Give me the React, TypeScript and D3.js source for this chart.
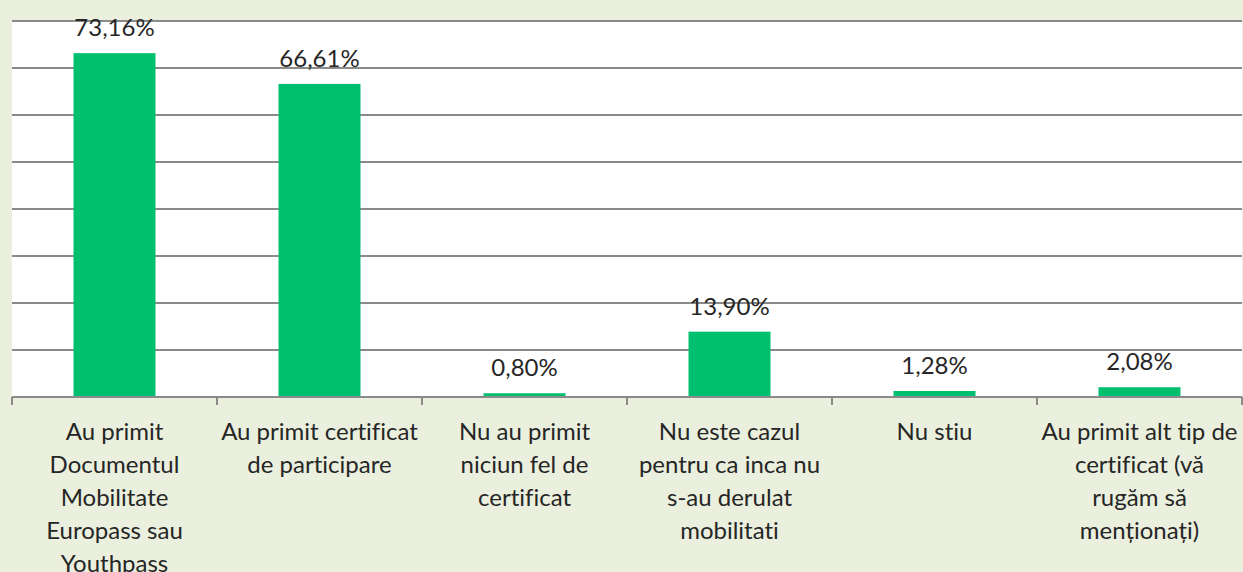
import { useEffect, useRef } from 'react';
import * as d3 from 'd3';

// category labels, already broken into lines as in the source chart
const categories: string[][] = [
  ['Au primit', 'Documentul', 'Mobilitate', 'Europass sau', 'Youthpass'],
  ['Au primit certificat', 'de participare'],
  ['Nu au primit', 'niciun fel de', 'certificat'],
  ['Nu este cazul', 'pentru ca inca nu', 's-au derulat', 'mobilitati'],
  ['Nu stiu'],
  ['Au primit alt tip de', 'certificat (vă', 'rugăm să', 'menționați)'],
];
const values = [73.16, 66.61, 0.8, 13.9, 1.28, 2.08];
const yTicks = [0, 10, 20, 30, 40, 50, 60, 70, 80];

const W = 1243;
const H = 572;

export default function App() {
  const svgRef = useRef<SVGSVGElement>(null);

  useEffect(() => {
    if (!svgRef.current) return;
    const svg = d3.select(svgRef.current);
    svg.selectAll('*').remove();

    const margin = { top: 21, right: 1, bottom: 175, left: 12 };
    const width = W - margin.left - margin.right;
    const height = H - margin.top - margin.bottom;
    const font = 'Lato, "Open Sans", sans-serif';
    const fs = '24px';

    svg.append('rect').attr('width', W).attr('height', H).attr('fill', '#ebf0de');

    const g = svg.append('g').attr('transform', `translate(${margin.left},${margin.top})`);
    g.append('rect').attr('width', width).attr('height', height).attr('fill', '#fff');

    const keys = categories.map((_, i) => String(i));
    const x = d3.scaleBand().domain(keys).range([0, width]).paddingInner(0.6).paddingOuter(0.3);
    const y = d3.scaleLinear().domain([0, 80]).range([height, 0]);

    // gridlines
    g.selectAll('.grid').data(yTicks.slice(1)).join('line')
      .attr('x1', 0).attr('x2', width)
      .attr('y1', d => y(d)).attr('y2', d => y(d))
      .attr('stroke', '#8a8a8a').attr('stroke-width', 2);

    // bars
    g.selectAll('.bar').data(values).join('rect')
      .attr('x', (_, i) => x(String(i))!).attr('y', d => y(d))
      .attr('width', x.bandwidth()).attr('height', d => height - y(d))
      .attr('fill', '#00bf6f');

    // value labels
    g.selectAll('.val').data(values).join('text')
      .attr('x', (_, i) => x(String(i))! + x.bandwidth() / 2)
      .attr('y', d => y(d) - 17)
      .attr('text-anchor', 'middle')
      .style('font-family', font).style('font-size', fs).style('fill', '#262626')
      .text(d => d.toFixed(2).replace('.', ',') + '%');

    // baseline and category ticks
    g.append('line').attr('x1', 0).attr('x2', width).attr('y1', height).attr('y2', height)
      .attr('stroke', '#8a8a8a').attr('stroke-width', 2);
    const step = width / categories.length;
    g.selectAll('.tick').data(d3.range(categories.length + 1)).join('line')
      .attr('x1', d => d * step).attr('x2', d => d * step)
      .attr('y1', height).attr('y2', height + 8)
      .attr('stroke', '#8a8a8a').attr('stroke-width', 2);

    // category labels
    categories.forEach((lines, i) => {
      const cx = x(String(i))! + x.bandwidth() / 2;
      const t = g.append('text')
        .attr('x', cx)
        .attr('y', height + 43)
        .attr('text-anchor', 'middle')
        .style('font-family', font).style('font-size', fs).style('fill', '#262626')
        .style('font-variant-ligatures', 'none');
      lines.forEach((ln, j) => {
        t.append('tspan').attr('x', cx).attr('dy', j === 0 ? 0 : 33).text(ln);
      });
    });
  }, []);

  return (
    <svg ref={svgRef} width={W} height={H}
      style={{ position: 'absolute', left: 0, top: 0, display: 'block' }} />
  );
}
